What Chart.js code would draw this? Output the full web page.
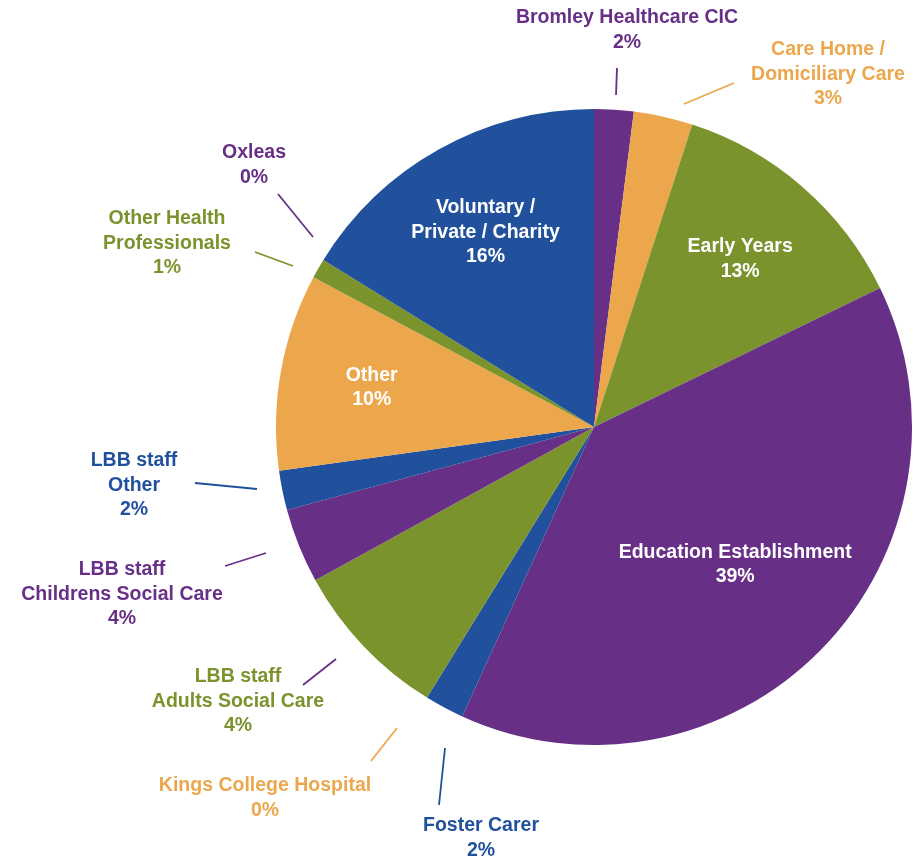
<!DOCTYPE html>
<html>
<head>
<meta charset="utf-8">
<script src="https://cdn.jsdelivr.net/npm/chart.js@4/dist/chart.umd.min.js"></script>
<style>
  html, body { margin:0; padding:0; background:#fff; }
  #wrap { width:913px; height:858px; position:relative; }
</style>
</head>
<body>
<div id="wrap"><canvas id="pie" width="913" height="858"></canvas></div>
<script>
// data
const categories = [
  "Bromley Healthcare CIC", "Care Home / Domiciliary Care", "Early Years",
  "Education Establishment", "Foster Carer", "Kings College Hospital",
  "LBB staff Adults Social Care", "LBB staff Childrens Social Care", "LBB staff Other",
  "Other", "Other Health Professionals", "Oxleas", "Voluntary / Private / Charity"
]
const shares = [2, 3, 12.8, 39, 2, 0, 8.2, 3.8, 2, 10, 1, 0, 16.2]
const pctLabels = ["2%", "3%", "13%", "39%", "2%", "0%", "4%", "4%", "2%", "10%", "1%", "0%", "16%"]
const labelLines = [
  ["Bromley Healthcare CIC"], ["Care Home /", "Domiciliary Care"], ["Early Years"],
  ["Education Establishment"], ["Foster Carer"], ["Kings College Hospital"],
  ["LBB staff", "Adults Social Care"], ["LBB staff", "Childrens Social Care"], ["LBB staff", "Other"],
  ["Other"], ["Other Health", "Professionals"], ["Oxleas"], ["Voluntary /", "Private / Charity"]
]

const PURPLE = "#682f87", ORANGE = "#eca74d", GREEN = "#7a932c", BLUE = "#21509c"
const sliceColors = [PURPLE, ORANGE, GREEN, PURPLE, BLUE, ORANGE, GREEN, PURPLE, BLUE, ORANGE, GREEN, PURPLE, BLUE]

// label placement (layout only)
// inside: radial factor along the slice mid angle
const insideLabels = { 2:0.70, 3:0.62, 9:0.71, 12:0.70 }
// outside: text centre x, first line y, leader line [x1,y1,x2,y2], line colour
const outsideLabels = {
  0:  { x:627, y:18,  line:[617,68,616,95],   lc:PURPLE },
  1:  { x:828, y:50,  line:[684,104,734,83],  lc:ORANGE },
  4:  { x:481, y:826, line:[439,805,445,748], lc:BLUE },
  5:  { x:265, y:786, line:[371,761,397,728], lc:ORANGE },
  6:  { x:238, y:677, line:[303,685,336,659], lc:PURPLE },
  7:  { x:122, y:570, line:[225,566,266,553], lc:PURPLE },
  8:  { x:134, y:461, line:[195,483,257,489], lc:BLUE },
  10: { x:167, y:219, line:[255,252,293,266], lc:GREEN },
  11: { x:254, y:153, line:[278,194,313,237], lc:PURPLE }
}

const FONT = "bold 19.5px 'Liberation Sans', Arial, sans-serif"
const LH = 24.5

const labelPlugin = {
  id:"sliceLabels",
  afterDraw(chart){
    const ctx = chart.ctx
    const arcs = chart.getDatasetMeta(0).data
    ctx.save()
    ctx.font = FONT
    ctx.textAlign = "center"
    ctx.textBaseline = "middle"

    arcs.forEach((arc, i) => {
      const lines = labelLines[i].concat([pctLabels[i]])
      if (insideLabels[i] !== undefined) {
        const p = arc.getProps(["x","y","startAngle","endAngle","outerRadius"], true)
        const mid = (p.startAngle + p.endAngle) / 2
        const r = p.outerRadius * insideLabels[i]
        const cx = p.x + Math.cos(mid) * r
        const cy = p.y + Math.sin(mid) * r
        ctx.fillStyle = "#ffffff"
        const top = cy - (lines.length - 1) * LH / 2
        lines.forEach((t, k) => ctx.fillText(t, cx, top + k * LH))
      } else if (outsideLabels[i]) {
        const o = outsideLabels[i]
        ctx.strokeStyle = o.lc
        ctx.lineWidth = 1.8
        ctx.beginPath()
        ctx.moveTo(o.line[0], o.line[1])
        ctx.lineTo(o.line[2], o.line[3])
        ctx.stroke()
        ctx.fillStyle = sliceColors[i]
        lines.forEach((t, k) => ctx.fillText(t, o.x, o.y + k * LH))
      }
    })
    ctx.restore()
  }
}

new Chart(document.getElementById("pie"), {
  type:"pie",
  data:{
    labels:categories,
    datasets:[{
      data:shares,
      backgroundColor:sliceColors,
      borderWidth:0
    }]
  },
  options:{
    responsive:false,
    animation:false,
    layout:{ padding:{ left:276, right:1, top:109, bottom:113 } },
    plugins:{
      legend:{ display:false },
      tooltip:{ enabled:false }
    }
  },
  plugins:[labelPlugin]
})
</script>
</body>
</html>
